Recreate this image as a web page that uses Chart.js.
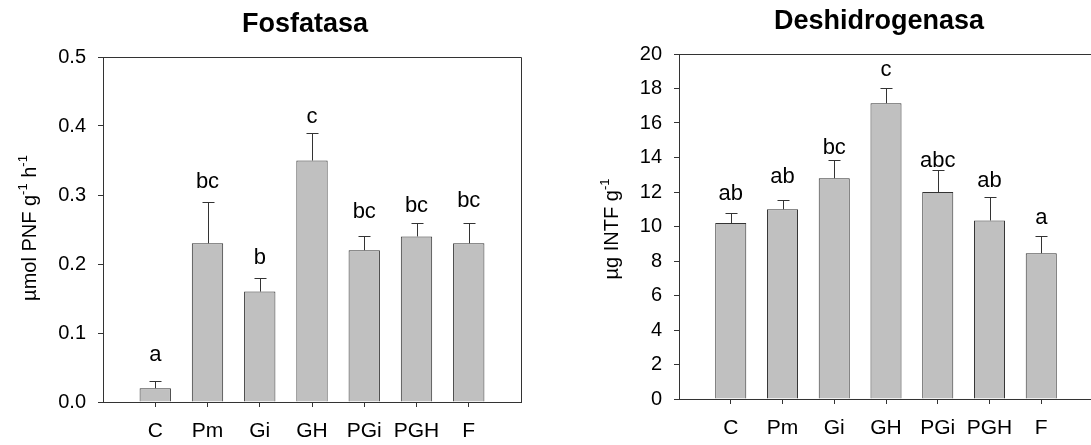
<!DOCTYPE html>
<html>
<head>
<meta charset="utf-8">
<script src="https://cdn.jsdelivr.net/npm/chart.js@4.4.0/dist/chart.umd.min.js"></script>
<style>
  html, body { margin: 0; padding: 0; background: #fff; overflow: hidden; width: 1091px; height: 445px; }
  #left { position: absolute; left: 0; top: 0; }
  #right { position: absolute; left: 545px; top: 0; }
</style>
</head>
<body>
<canvas id="left" width="545" height="445"></canvas>
<canvas id="right" width="560" height="445"></canvas>
<script>
// treatments on the x axis
const categories = ['C', 'Pm', 'Gi', 'GH', 'PGi', 'PGH', 'F'];

// Fosfatasa (umol PNF g-1 h-1)
const fosfatasa = [0.02, 0.23, 0.16, 0.35, 0.22, 0.24, 0.23];
const fosfatasaErrTop = [0.03, 0.29, 0.18, 0.39, 0.24, 0.26, 0.26];
const fosfatasaLetters = ['a', 'bc', 'b', 'c', 'bc', 'bc', 'bc'];
const fosfatasaLetterAt = [0.06, 0.31, 0.20, 0.405, 0.267, 0.275, 0.282];

// Deshidrogenasa (ug INTF g-1)
const deshidrogenasa = [10.2, 11.0, 12.8, 17.15, 12.0, 10.35, 8.45];
const deshidrogenasaErrTop = [10.8, 11.55, 13.85, 18.05, 13.25, 11.7, 9.45];
const deshidrogenasaLetters = ['ab', 'ab', 'bc', 'c', 'abc', 'ab', 'a'];
const deshidrogenasaLetterAt = [11.55, 12.5, 14.2, 18.7, 13.47, 12.3, 10.13];

const FONT = '"Liberation Sans", Arial, sans-serif';
const LINE = '#333';

Chart.defaults.font.family = FONT;
Chart.defaults.color = '#000';

// error bars, significance letters, frame, title and y title with superscripts
const panelText = {
  id: 'panelText',
  afterDatasetsDraw(chart, args, opts) {
    const ctx = chart.ctx;
    const area = chart.chartArea;
    const y = chart.scales.y;
    const bars = chart.getDatasetMeta(0).data;

    ctx.save();
    ctx.strokeStyle = LINE;
    ctx.lineWidth = 1;

    // frame top + right
    ctx.beginPath();
    ctx.moveTo(area.left, Math.round(area.top) + 0.5);
    ctx.lineTo(Math.round(area.right) + 0.5, Math.round(area.top) + 0.5);
    ctx.lineTo(Math.round(area.right) + 0.5, area.bottom);
    ctx.stroke();

    // error bars
    bars.forEach((bar, i) => {
      const x = Math.round(bar.x) + 0.5;
      const top = Math.round(y.getPixelForValue(opts.errTop[i])) + 0.5;
      ctx.beginPath();
      ctx.moveTo(x, bar.y);
      ctx.lineTo(x, top);
      ctx.moveTo(x - 6, top);
      ctx.lineTo(x + 6, top);
      ctx.stroke();
    });

    // letters
    ctx.fillStyle = '#000';
    ctx.font = '22px ' + FONT;
    ctx.textAlign = 'center';
    ctx.textBaseline = 'alphabetic';
    bars.forEach((bar, i) => {
      ctx.fillText(opts.letters[i], bar.x, y.getPixelForValue(opts.letterAt[i]));
    });

    // title
    ctx.font = 'bold 27px ' + FONT;
    ctx.fillText(opts.title, (area.left + area.right) / 2 - 7, area.top - 25);

    // y axis title, rotated, with superscripts
    ctx.translate(opts.yTitleX, opts.yTitleY);
    ctx.rotate(-Math.PI / 2);
    ctx.textAlign = 'left';
    const fonts = { n: '20px ' + FONT, sup: '13px ' + FONT };
    let total = 0;
    opts.yTitle.forEach(([txt, kind]) => {
      ctx.font = fonts[kind];
      total += ctx.measureText(txt).width;
    });
    let pos = -total / 2;
    opts.yTitle.forEach(([txt, kind]) => {
      ctx.font = fonts[kind];
      ctx.fillText(txt, pos, kind === 'sup' ? -9 : 0);
      pos += ctx.measureText(txt).width;
    });
    ctx.restore();
  }
};

function makePanel(id, cfg) {
  return new Chart(document.getElementById(id), {
    type: 'bar',
    data: {
      datasets: [{
        data: categories.map((c, i) => ({ x: i + 1, y: cfg.values[i] })),
        backgroundColor: '#c0c0c0',
        borderColor: LINE,
        borderWidth: 1,
        barPercentage: 0.6,
        categoryPercentage: 1
      }]
    },
    options: {
      responsive: false,
      animation: false,
      layout: { padding: { top: cfg.top, right: cfg.right, left: 0, bottom: 0 } },
      plugins: {
        legend: { display: false },
        tooltip: { enabled: false },
        panelText: {
          title: cfg.title,
          yTitle: cfg.yTitle,
          yTitleX: cfg.yTitleX,
          yTitleY: cfg.yTitleY,
          errTop: cfg.errTop,
          letters: cfg.letters,
          letterAt: cfg.letterAt
        }
      },
      scales: {
        x: {
          type: 'linear',
          min: 0,
          max: 8,
          offset: false,
          afterFit: s => { s.height = cfg.xHeight; },
          ticks: {
            stepSize: 1,
            autoSkip: false,
            maxRotation: 0,
            padding: 12,
            font: { size: 21 },
            color: '#000',
            callback: v => categories[v - 1] || ''
          },
          grid: {
            offset: false,
            drawOnChartArea: false,
            tickLength: 5,
            tickColor: c => (c.tick && c.tick.value >= 1 && c.tick.value <= 7) ? LINE : 'rgba(0,0,0,0)'
          },
          border: { display: true, color: LINE, width: 1 }
        },
        y: {
          min: 0,
          max: cfg.yMax,
          afterFit: s => { s.width = cfg.yWidth; },
          ticks: {
            stepSize: cfg.yStep,
            padding: 12,
            font: { size: 20 },
            color: '#000',
            callback: cfg.yFormat
          },
          grid: { drawOnChartArea: false, tickLength: 5, tickColor: LINE },
          border: { display: true, color: LINE, width: 1 }
        }
      }
    },
    plugins: [panelText]
  });
}

makePanel('left', {
  title: 'Fosfatasa',
  values: fosfatasa,
  errTop: fosfatasaErrTop,
  letters: fosfatasaLetters,
  letterAt: fosfatasaLetterAt,
  yMax: 0.5,
  yStep: 0.1,
  yFormat: v => v.toFixed(1),
  yTitle: [['µmol PNF g', 'n'], ['-1', 'sup'], [' h', 'n'], ['-1', 'sup']],
  yTitleX: 36,
  yTitleY: 228,
  top: 57,
  right: 24,
  yWidth: 103,
  xHeight: 43
});

makePanel('right', {
  title: 'Deshidrogenasa',
  values: deshidrogenasa,
  errTop: deshidrogenasaErrTop,
  letters: deshidrogenasaLetters,
  letterAt: deshidrogenasaLetterAt,
  yMax: 20,
  yStep: 2,
  yFormat: v => String(v),
  yTitle: [['µg INTF g', 'n'], ['-1', 'sup']],
  yTitleX: 73,
  yTitleY: 229,
  top: 54,
  right: 8,
  yWidth: 134,
  xHeight: 46
});
</script>
</body>
</html>
